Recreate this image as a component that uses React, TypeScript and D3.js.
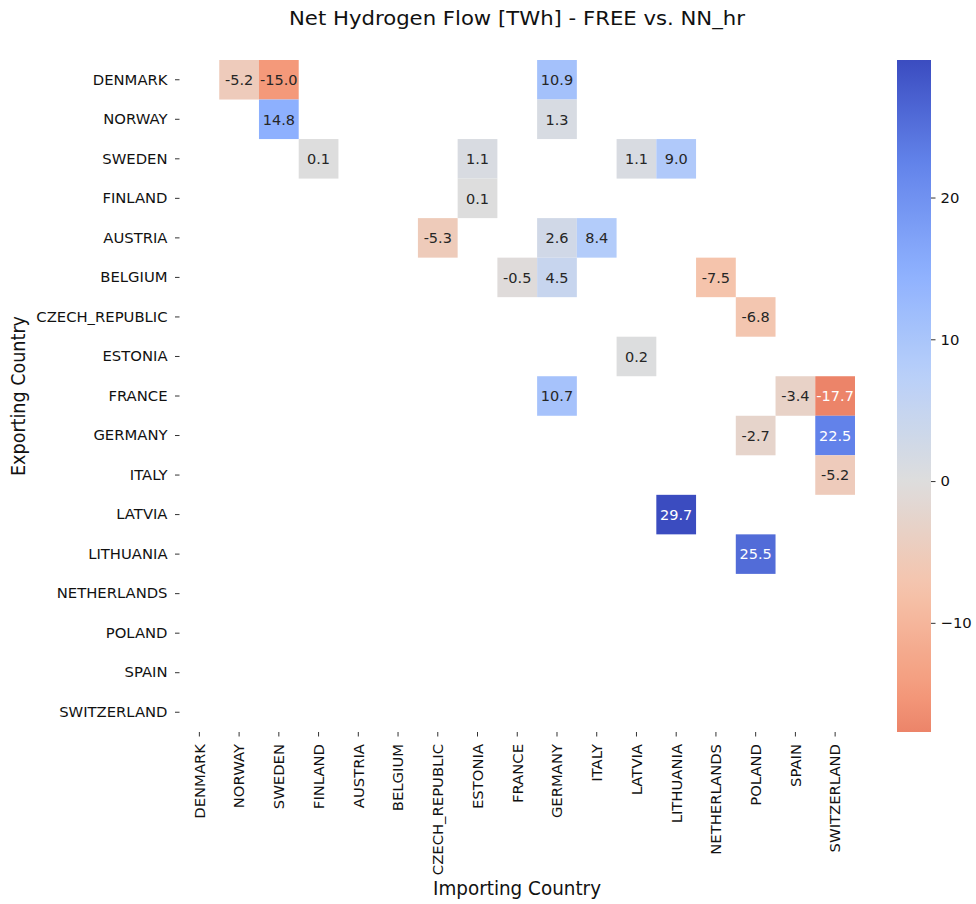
import * as d3 from 'd3';
import React, { useEffect, useRef } from 'react';

const countries = [
  'DENMARK', 'NORWAY', 'SWEDEN', 'FINLAND', 'AUSTRIA', 'BELGIUM', 'CZECH_REPUBLIC',
  'ESTONIA', 'FRANCE', 'GERMANY', 'ITALY', 'LATVIA', 'LITHUANIA', 'NETHERLANDS',
  'POLAND', 'SPAIN', 'SWITZERLAND',
];

// sparse flows: exporter -> importer
const flowExporter = [
  'DENMARK', 'DENMARK', 'DENMARK',
  'NORWAY', 'NORWAY',
  'SWEDEN', 'SWEDEN', 'SWEDEN', 'SWEDEN',
  'FINLAND',
  'AUSTRIA', 'AUSTRIA', 'AUSTRIA',
  'BELGIUM', 'BELGIUM', 'BELGIUM',
  'CZECH_REPUBLIC',
  'ESTONIA',
  'FRANCE', 'FRANCE', 'FRANCE',
  'GERMANY', 'GERMANY',
  'ITALY',
  'LATVIA',
  'LITHUANIA',
];
const flowImporter = [
  'NORWAY', 'SWEDEN', 'GERMANY',
  'SWEDEN', 'GERMANY',
  'FINLAND', 'ESTONIA', 'LATVIA', 'LITHUANIA',
  'ESTONIA',
  'CZECH_REPUBLIC', 'GERMANY', 'ITALY',
  'FRANCE', 'GERMANY', 'NETHERLANDS',
  'POLAND',
  'LATVIA',
  'GERMANY', 'SPAIN', 'SWITZERLAND',
  'POLAND', 'SWITZERLAND',
  'SWITZERLAND',
  'LITHUANIA',
  'POLAND',
];
const flowValue = [
  -5.2, -15.0, 10.9,
  14.8, 1.3,
  0.1, 1.1, 1.1, 9.0,
  0.1,
  -5.3, 2.6, 8.4,
  -0.5, 4.5, -7.5,
  -6.8,
  0.2,
  10.7, -3.4, -17.7,
  -2.7, 22.5,
  -5.2,
  29.7,
  25.5,
];

const colorbarTicks = [-10, 0, 10, 20];

// matplotlib coolwarm samples (0 -> 1)
const coolwarmStops = [
  '#3b4cc0', '#6384eb', '#8db0fe', '#b9d0f9', '#dddddd',
  '#f5c4ac', '#f49a7b', '#de604d', '#b40426',
];

const W = 976;
const H = 904;

interface Flow {
  from: string;
  to: string;
  value: number;
}

const App: React.FC = () => {
  const svgRef = useRef<SVGSVGElement>(null);

  useEffect(() => {
    if (!svgRef.current) return;
    const svg = d3.select(svgRef.current);
    svg.selectAll('*').remove();

    const font = 'DejaVu Sans, sans-serif';
    const flows: Flow[] = flowValue.map((v, i) => ({ from: flowExporter[i], to: flowImporter[i], value: v }));

    const x = d3.scaleBand<string>().domain(countries).range([179.5, 855]).paddingInner(0);
    const y = d3.scaleBand<string>().domain(countries).range([60, 732]).paddingInner(0);

    const vmin = d3.min(flowValue) as number;
    const vmax = d3.max(flowValue) as number;
    const vrange = Math.max(vmax, -vmin);
    const coolwarm = d3.piecewise(d3.interpolateRgb, coolwarmStops);
    // coolwarm_r, centered at 0
    const color = (v: number) => coolwarm(1 - (v + vrange) / (2 * vrange));

    const luminance = (c: string) => {
      const rgb = d3.rgb(c);
      const lin = (u: number) => {
        const s = u / 255;
        return s <= 0.03928 ? s / 12.92 : Math.pow((s + 0.055) / 1.055, 2.4);
      };
      return 0.2126 * lin(rgb.r) + 0.7152 * lin(rgb.g) + 0.0722 * lin(rgb.b);
    };

    // Title
    svg.append('text')
      .attr('x', 517)
      .attr('y', 25)
      .attr('text-anchor', 'middle')
      .attr('font-family', font)
      .attr('font-size', 20)
      .attr('textLength', 456)
      .attr('lengthAdjust', 'spacingAndGlyphs')
      .attr('fill', '#111')
      .text('Net Hydrogen Flow [TWh] - FREE vs. NN_hr');

    // Cells
    const g = svg.append('g');
    g.selectAll('rect.cell')
      .data(flows)
      .join('rect')
      .attr('class', 'cell')
      .attr('x', d => x(d.to) as number)
      .attr('y', d => y(d.from) as number)
      .attr('width', x.bandwidth())
      .attr('height', y.bandwidth())
      .attr('fill', d => color(d.value));

    g.selectAll('text.annot')
      .data(flows)
      .join('text')
      .attr('class', 'annot')
      .attr('x', d => (x(d.to) as number) + x.bandwidth() / 2)
      .attr('y', d => (y(d.from) as number) + y.bandwidth() / 2)
      .attr('dy', '0.36em')
      .attr('text-anchor', 'middle')
      .attr('font-family', font)
      .attr('font-size', 14.5)
      .attr('fill', d => (luminance(color(d.value)) > 0.408 ? '#262626' : '#ffffff'))
      .text(d => d.value.toFixed(1));

    // Axes
    const yAxis = svg.append('g')
      .attr('transform', `translate(179.5,0)`)
      .call(d3.axisLeft(y).tickSize(4.5).tickPadding(7.5));
    yAxis.select('.domain').remove();
    yAxis.selectAll('text').attr('font-family', font).attr('font-size', 14.8).attr('fill', '#111');
    yAxis.selectAll('line').attr('stroke', '#333');

    const xAxis = svg.append('g')
      .attr('transform', `translate(0,732)`)
      .call(d3.axisBottom(x).tickSize(4.5).tickPadding(4));
    xAxis.select('.domain').remove();
    xAxis.selectAll('line').attr('stroke', '#333');
    xAxis.selectAll<SVGTextElement, string>('text')
      .attr('font-family', font)
      .attr('font-size', 14.8)
      .attr('fill', '#111')
      .attr('transform', 'rotate(-90)')
      .attr('text-anchor', 'end')
      .attr('x', -12)
      .attr('y', 0)
      .attr('dy', '0.36em');

    svg.append('text')
      .attr('x', 517)
      .attr('y', 895)
      .attr('text-anchor', 'middle')
      .attr('font-family', font)
      .attr('font-size', 19)
      .attr('textLength', 168)
      .attr('lengthAdjust', 'spacingAndGlyphs')
      .attr('fill', '#111')
      .text('Importing Country');

    svg.append('text')
      .attr('transform', 'translate(25,396) rotate(-90)')
      .attr('text-anchor', 'middle')
      .attr('font-family', font)
      .attr('font-size', 19)
      .attr('textLength', 160)
      .attr('lengthAdjust', 'spacingAndGlyphs')
      .attr('fill', '#111')
      .text('Exporting Country');

    // Colorbar
    const cb = d3.scaleLinear().domain([vmin, vmax]).range([732, 60]);
    const defs = svg.append('defs');
    const grad = defs.append('linearGradient')
      .attr('id', 'cbar')
      .attr('x1', 0).attr('y1', 1).attr('x2', 0).attr('y2', 0);
    d3.range(0, 41).forEach(i => {
      const t = i / 40;
      grad.append('stop')
        .attr('offset', t)
        .attr('stop-color', color(vmin + t * (vmax - vmin)));
    });
    svg.append('rect')
      .attr('x', 897)
      .attr('y', 60)
      .attr('width', 34)
      .attr('height', 672)
      .attr('fill', 'url(#cbar)');

    const cbAxis = svg.append('g')
      .attr('transform', 'translate(931,0)')
      .call(d3.axisRight(cb)
        .tickValues(colorbarTicks)
        .tickSize(4.5)
        .tickPadding(5)
        .tickFormat(d => (Number(d) < 0 ? '\u2212' + Math.abs(Number(d)) : String(d))));
    cbAxis.select('.domain').remove();
    cbAxis.selectAll('line').attr('stroke', '#333');
    cbAxis.selectAll('text').attr('font-family', font).attr('font-size', 14.8).attr('fill', '#111');
  }, []);

  return (
    <div style={{ position: 'absolute', left: 0, top: 0, background: '#fff' }}>
      <svg ref={svgRef} width={W} height={H} />
    </div>
  );
};

export default App;
